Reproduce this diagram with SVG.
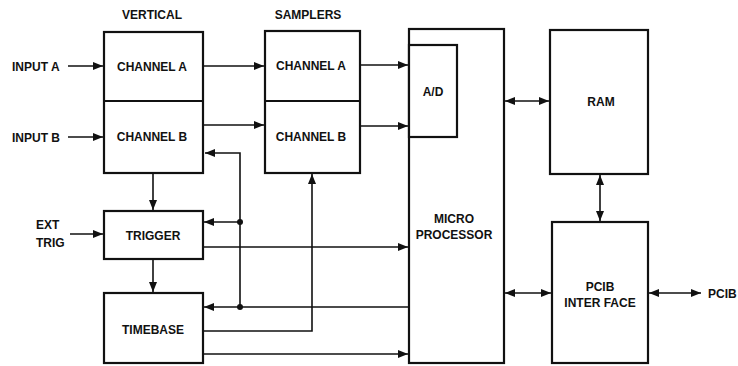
<svg xmlns="http://www.w3.org/2000/svg" width="738" height="366" viewBox="0 0 738 366">
<style>
.box{fill:#fff;stroke:#111;stroke-width:2.2}
.ln{fill:none;stroke:#111;stroke-width:1.6}
text{font-family:"Liberation Sans",Arial,sans-serif;font-weight:bold;font-size:12px;fill:#111;text-anchor:middle}
.lab{text-anchor:start}
</style>
<defs>
<marker id="ah" markerUnits="userSpaceOnUse" markerWidth="11" markerHeight="9" refX="10" refY="4" orient="auto-start-reverse" viewBox="0 0 11 9">
<path d="M0,0 L10,4 L0,8 z" fill="#111"/>
</marker>
</defs>
<g id="vertical">
<text x="152" y="19">VERTICAL</text>
<rect class="box" x="104" y="32" width="99" height="141"/>
<line class="ln" x1="104" y1="101" x2="203" y2="101" style="stroke-width:2"/>
<text x="152" y="71">CHANNEL A</text>
<text x="152" y="141">CHANNEL B</text>
</g>
<g id="samplers">
<text x="308" y="19">SAMPLERS</text>
<rect class="box" x="265" y="31" width="95" height="142"/>
<line class="ln" x1="265" y1="101" x2="360" y2="101" style="stroke-width:2"/>
<text x="311" y="70">CHANNEL A</text>
<text x="311" y="141">CHANNEL B</text>
</g>
<g id="micro">
<rect class="box" x="409" y="29" width="95" height="334"/>
<rect class="box" x="409" y="45" width="48" height="92"/>
<text x="433" y="96">A/D</text>
<text x="454" y="223">MICRO</text>
<text x="454" y="239">PROCESSOR</text>
</g>
<g id="ram">
<rect class="box" x="550" y="30" width="98" height="144"/>
<text x="601" y="106">RAM</text>
</g>
<g id="pcib">
<rect class="box" x="552" y="222" width="96" height="141"/>
<text x="600" y="291">PCIB</text>
<text x="600" y="307">INTER FACE</text>
</g>
<g id="trigger">
<rect class="box" x="104" y="211" width="99" height="48"/>
<text x="153" y="240">TRIGGER</text>
</g>
<g id="timebase">
<rect class="box" x="104" y="293" width="99" height="70"/>
<text x="153" y="334">TIMEBASE</text>
</g>
<g id="labels">
<text class="lab" x="12" y="71">INPUT A</text>
<text class="lab" x="12" y="142">INPUT B</text>
<text class="lab" x="36" y="229">EXT</text>
<text class="lab" x="36" y="247">TRIG</text>
<text class="lab" x="708" y="298">PCIB</text>
</g>
<g id="connectors">
<path class="ln" d="M68,66 H103" marker-end="url(#ah)"/>
<path class="ln" d="M68,137 H103" marker-end="url(#ah)"/>
<path class="ln" d="M70,234 H103" marker-end="url(#ah)"/>
<path class="ln" d="M203,66 H264" marker-end="url(#ah)"/>
<path class="ln" d="M203,125 H264" marker-end="url(#ah)"/>
<path class="ln" d="M360,65 H408" marker-end="url(#ah)"/>
<path class="ln" d="M360,126 H408" marker-end="url(#ah)"/>
<path class="ln" d="M409,307 H240 V153 H205" marker-end="url(#ah)"/>
<path class="ln" d="M240,307 H204" marker-end="url(#ah)"/>
<path class="ln" d="M240,222 H204" marker-end="url(#ah)"/>
<circle cx="240" cy="222" r="3" fill="#111"/>
<circle cx="240" cy="307" r="3" fill="#111"/>
<path class="ln" d="M153,173 V210" marker-end="url(#ah)"/>
<path class="ln" d="M153,259 V292" marker-end="url(#ah)"/>
<path class="ln" d="M203,247 H408" marker-end="url(#ah)"/>
<path class="ln" d="M203,331 H312 V174" marker-end="url(#ah)"/>
<path class="ln" d="M203,354 H408" marker-end="url(#ah)"/>
<path class="ln" d="M505,101 H549" marker-start="url(#ah)" marker-end="url(#ah)"/>
<path class="ln" d="M600,175 V221" marker-start="url(#ah)" marker-end="url(#ah)"/>
<path class="ln" d="M505,293 H551" marker-start="url(#ah)" marker-end="url(#ah)"/>
<path class="ln" d="M649,293 H701" marker-start="url(#ah)" marker-end="url(#ah)"/>
</g>
</svg>
